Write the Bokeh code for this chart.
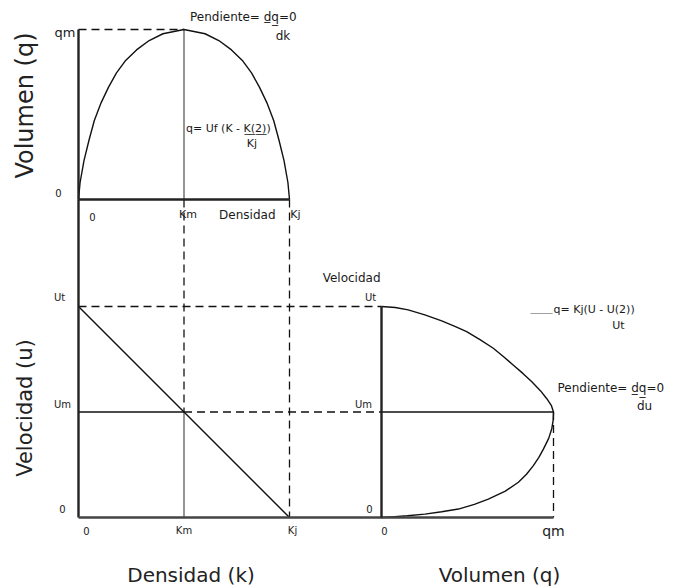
import math
from bokeh.plotting import figure
from bokeh.models import Range1d
from bokeh.core.properties import value
from bokeh.embed import file_html
from bokeh.resources import INLINE

# ---------------- data (symbolic, normalised quantities) ----------------
K_J = 1.0   # jam density
K_M = 0.5   # density at maximum flow
U_T = 1.0   # free-flow speed
U_M = 0.5   # speed at maximum flow
Q_M = 1.0   # maximum flow

# volume-density curve (fractions of Kj and qm)
flow_density_frac = [0.0, 0.0075, 0.026, 0.05, 0.075, 0.1075, 0.1425, 0.18, 0.2235,
                     0.275, 0.335, 0.40, 0.5, 0.60, 0.665, 0.725, 0.7765, 0.82,
                     0.8575, 0.8925, 0.925, 0.95, 0.974, 0.9925, 1.0]
flow_volume_frac = [0.0, 0.10, 0.229, 0.35, 0.465, 0.57, 0.661, 0.745, 0.818,
                    0.88, 0.935, 0.975, 1.0, 0.975, 0.935, 0.88, 0.818, 0.745,
                    0.661, 0.57, 0.465, 0.35, 0.229, 0.10, 0.0]

# speed-volume curve (fractions of Ut and qm)
sv_speed_frac = [1.0, 0.995, 0.984, 0.960, 0.932, 0.905, 0.881, 0.842, 0.802, 0.762,
                 0.722, 0.683, 0.643, 0.60, 0.563, 0.53, 0.5, 0.46, 0.421, 0.375,
                 0.325, 0.285, 0.246, 0.205, 0.167, 0.125, 0.087, 0.062, 0.040,
                 0.027, 0.016, 0.008, 0.003, 0.0]
sv_volume_frac = [0.0, 0.08, 0.155, 0.252, 0.35, 0.43, 0.495, 0.575, 0.650, 0.71,
                  0.767, 0.822, 0.874, 0.925, 0.961, 0.988, 1.0, 0.998, 0.99, 0.972,
                  0.942, 0.915, 0.883, 0.843, 0.796, 0.72, 0.621, 0.54, 0.447,
                  0.35, 0.252, 0.15, 0.058, 0.0]

# speed-density straight line
sd_density = [0.0, K_J]
sd_speed = [U_T, 0.0]

# ---------------- layout ----------------
W, H = 679, 588
ORIGIN = 0
PX_K0, PX_KJ = 78, 289      # density axis: 0 and Kj
PX_Q0, PX_QM = 381, 553     # right panel volume axis: 0 and qm
PY_U0, PY_UT = 517, 306     # speed axis: 0 and Ut
PY_Q0, PY_QM = 199, 29      # top panel volume axis: 0 and qm


def conv(p0, p1, v1):
    return lambda pix: (pix - p0) / (p1 - p0) * v1


k_at = conv(PX_K0, PX_KJ, K_J)
qr_at = conv(PX_Q0, PX_QM, Q_M)
u_at = conv(PY_U0, PY_UT, U_T)
qt_at = conv(PY_Q0, PY_QM, Q_M)

p = figure(width=W, height=H,
           x_range=Range1d(k_at(ORIGIN), k_at(ORIGIN + W)),
           y_range=Range1d(u_at(ORIGIN + H), u_at(ORIGIN)),
           x_axis_type=None, y_axis_type=None,
           output_backend="svg", toolbar_location=None,
           min_border=0, outline_line_color=None)
p.extra_x_ranges = {"vol": Range1d(qr_at(ORIGIN), qr_at(ORIGIN + W))}
p.extra_y_ranges = {"volt": Range1d(qt_at(ORIGIN + H), qt_at(ORIGIN))}
p.background_fill_color = "white"
p.border_fill_color = "white"

K_RIGHT_AXIS = k_at(PX_Q0)     # density coordinate of right panel origin
K_RIGHT_END = k_at(PX_QM)      # density coordinate of right panel qm
U_TOP_BASE = u_at(PY_Q0)       # speed coordinate of top panel baseline

AXIS = dict(line_color="#222222", line_width=2.4)
CURVE = dict(line_color="#111111", line_width=1.4)
DASH = dict(line_color="#111111", line_width=1.3, line_dash="8 5")
GRAY = dict(line_color="#7a7a7a", line_width=1.6)


def seg(x0, y0, x1, y1, xr="default", yr="default", **kw):
    p.segment(x0=[x0], y0=[y0], x1=[x1], y1=[y1],
              x_range_name=xr, y_range_name=yr, **kw)


# --- dashed guide lines ---
seg(0, Q_M, K_M, Q_M, yr="volt", **DASH)                  # qm guide (top)
seg(K_M, U_TOP_BASE, K_M, U_M, **DASH)                    # Km drop
seg(K_J, U_TOP_BASE, K_J, 0, **DASH)                      # Kj drop
seg(0, U_T, K_RIGHT_AXIS, U_T, **DASH)                    # Ut across
seg(K_M, U_M, K_RIGHT_AXIS, U_M, **DASH)                  # Um across
seg(Q_M, U_M, Q_M, 0, xr="vol", **DASH)                   # qm drop (right)

# --- gray verticals at Km ---
seg(K_M, 0, K_M, Q_M, yr="volt", **GRAY)
seg(K_M, U_M, K_M, 0, **GRAY)

# --- curves ---
p.line([f * K_J for f in flow_density_frac], [f * Q_M for f in flow_volume_frac],
       y_range_name="volt", line_join="round", **CURVE)
p.line(sd_density, sd_speed, **CURVE)
p.line([f * Q_M for f in sv_volume_frac], [f * U_T for f in sv_speed_frac],
       x_range_name="vol", line_join="round", **CURVE)

# --- solid lines / axes ---
seg(0, U_M, K_M, U_M, line_color="#111111", line_width=1.6)
seg(0, U_M, Q_M, U_M, xr="vol", line_color="#111111", line_width=1.6)
seg(0, 0, K_J, 0, yr="volt", **AXIS)                       # top baseline
seg(0, Q_M, 0, 0, yr="volt", **AXIS)                       # left axis (top part)
seg(0, U_TOP_BASE, 0, 0, **AXIS)                           # left axis (lower part)
seg(0, 0, K_RIGHT_END, 0, line_color="#444444", line_width=2.4)  # bottom baseline
seg(0, 0, 0, U_T, xr="vol", **AXIS)                        # right panel axis

# ---------------- texts ----------------
FONT = value("DejaVu Sans")
INK = "#1a1a1a"


def label(x, y, txt, dx=0, dy=0, size=10, align="center", xr="default", yr="default",
          angle=0, color=INK):
    p.text(x=[x], y=[y], text=[txt], x_offset=dx, y_offset=dy, angle=angle,
           text_font=FONT, text_font_size=f"{size}px", text_align=align,
           text_baseline="middle", text_color=color,
           x_range_name=xr, y_range_name=yr)


UL = "\u0332"

# top panel
label(0, Q_M, "qm", dx=-3, dy=3, size=13, align="right", yr="volt")
label(0, 0, "0", dx=-20, dy=-7, size=10, yr="volt")
label(0, 0, "0", dx=14, dy=17, size=10, yr="volt")
label(K_M, 0, "Km", dx=4, dy=15, size=11, yr="volt")
label(K_J, 0, "Densidad", dx=-14, dy=15, size=12, align="right", yr="volt")
label(K_J, 0, "Kj", dx=6, dy=15, size=11, yr="volt")
label(K_M, Q_M, "Pendiente= d" + UL + "q" + UL + "=0", dx=6, dy=-13, size=12,
      align="left", yr="volt")
label(K_M, Q_M, "dk", dx=99, dy=6, size=12, yr="volt")
label(K_M, 0, "q= Uf (K - K" + UL + "(" + UL + "2" + UL + ")" + UL + ")", dx=2, dy=-71,
      size=11, align="left", yr="volt")
label(K_M, 0, "Kj", dx=68, dy=-56, size=11, yr="volt")

# bottom-left panel
label(0, U_T, "Ut", dx=-19, dy=-9, size=10)
label(0, U_M, "Um", dx=-16, dy=-8, size=10)
label(0, 0, "0", dx=-16, dy=-9, size=10)
label(0, 0, "0", dx=8, dy=13, size=10)
label(K_M, 0, "Km", dx=0, dy=13, size=10)
label(K_J, 0, "Kj", dx=3, dy=13, size=10)

# right panel
label(0, U_T, "Velocidad", dx=-1, dy=-29, size=12, align="right", xr="vol")
label(0, U_T, "Ut", dx=-11, dy=-9, size=10, xr="vol")
label(0, U_M, "Um", dx=-18, dy=-8, size=10, xr="vol")
label(0, 0, "0", dx=-12, dy=-9, size=10, xr="vol")
label(0, 0, "0", dx=3, dy=13, size=10, xr="vol")
label(Q_M, 0, "qm", dx=0, dy=13, size=14, xr="vol")
label(Q_M, U_T, "____", dx=-1, dy=1, size=11, align="right", xr="vol", color="#8a8a8a")
label(Q_M, U_T, "q= Kj(U - U(2))", dx=0, dy=3, size=11, align="left", xr="vol")
label(Q_M, U_T, "Ut", dx=65, dy=19, size=11, xr="vol")
label(Q_M, U_M, "Pendiente= d" + UL + "q" + UL + "=0", dx=4, dy=-24, size=12,
      align="left", xr="vol")
label(Q_M, U_M, "du", dx=91, dy=-6, size=12, xr="vol")

# axis titles
label(0, Q_M / 2, "Volumen (q)", dx=-54, dy=-9, size=24, angle=math.pi / 2, yr="volt",
      color="#222222")
label(0, U_M, "Velocidad (u)", dx=-54, dy=-4, size=21, angle=math.pi / 2,
      color="#222222")
label(K_M, 0, "Densidad (k)", dx=7, dy=57, size=20, color="#222222")
label(Q_M / 2, 0, "Volumen (q)", dx=32, dy=57, size=20, xr="vol", color="#222222")

open("out.html", "w").write(file_html(p, INLINE))
